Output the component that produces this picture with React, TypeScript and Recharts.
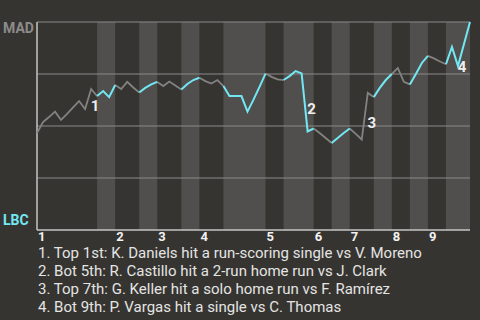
import React from 'react';
import { LineChart, Line, XAxis, YAxis, ReferenceArea, ReferenceLine, ReferenceDot } from 'recharts';

// MAD win probability (%) after each plate appearance, play 0 .. 72
const madWinPct = [
  46.6, 51.9, 54.3, 56.9, 52.9, 55.8, 58.9, 62.0, 58.2, 67.8,
  64.4, 66.8, 63.9, 69.7, 67.8, 71.2, 68.5, 66.1, 68.3, 70.0,
  71.2, 69.2, 71.4, 69.5, 67.5, 70.2, 72.1, 73.2, 71.6, 70.4,
  72.1, 69.2, 64.4, 64.4, 64.4, 56.9, 62.7, 68.8, 75.2, 73.6,
  72.4, 72.1, 74.0, 76.4, 75.3, 47.4, 48.8, 46.6, 44.2, 41.8,
  44.2, 46.6, 48.8, 46.2, 43.5, 65.9, 63.9, 68.3, 72.1, 75.0,
  77.9, 71.2, 70.0, 75.0, 80.3, 83.7, 82.5, 81.0, 79.7, 88.0,
  78.8, 89.4, 100,
];

// Play index at which each half-inning begins (last entry = final play)
const halfInningStarts = [0, 10, 13, 17, 20, 24, 27, 31, 38, 41, 46, 49, 52, 56, 59, 62, 65, 68, 72];

const inningLabels = ['1', '2', '3', '4', '5', '6', '7', '8', '9'];

// Key plays: index of the play that produced the swing
const keyPlayIndex = [9, 45, 55, 71];
const keyPlayNotes = [
  '1. Top 1st: K. Daniels hit a run-scoring single vs V. Moreno',
  '2. Bot 5th: R. Castillo hit a 2-run home run vs J. Clark',
  '3. Top 7th: G. Keller hit a solo home run vs F. Ramírez',
  '4. Bot 9th: P. Vargas hit a single vs C. Thomas',
];

const BG = '#363430';
const BAND = '#504f4d';
const GRID = '#8a8a8a';
const AXIS = '#c4c4c4';
const TOP_COLOR = '#828282';
const BOT_COLOR = '#72e8f4';
const FONT = 'Roboto, "Noto Sans", sans-serif';

const inHalf = (i: number, wantTop: boolean) => {
  for (let h = 0; h < halfInningStarts.length - 1; h++) {
    const isTop = h % 2 === 0;
    if (isTop !== wantTop) continue;
    if (i >= halfInningStarts[h] && i <= halfInningStarts[h + 1]) return true;
  }
  return false;
};

const rows = madWinPct.map((v, i) => ({
  play: i,
  top: inHalf(i, true) ? v : null,
  bot: inHalf(i, false) ? v : null,
}));

const inningStarts = halfInningStarts.filter((_, k) => k % 2 === 0).slice(0, inningLabels.length);

const InningTick = (props: any) => {
  const { x, y, payload } = props;
  const k = inningStarts.indexOf(payload.value);
  return (
    <text x={x + 1} y={y + 11} fill="#f2f2f2" fontSize={13} fontWeight="bold" fontFamily={FONT} textAnchor="start">
      {inningLabels[k]}
    </text>
  );
};

// label nudges (px) relative to the middle of each swing
const labelNudge = [
  { dx: 7, dy: 7 },
  { dx: 7, dy: 7 },
  { dx: 7, dy: 7 },
  { dx: 1, dy: 12 },
];

export default function App() {
  return (
    <div style={{ position: 'fixed', left: 0, top: 0, width: 480, height: 320, background: BG, overflow: 'hidden' }}>
      <LineChart width={480} height={320} data={rows} margin={{ top: 22, right: 10, bottom: 70, left: 37 }}>
        <XAxis
          type="number"
          dataKey="play"
          domain={[0, 72]}
          ticks={inningStarts}
          interval={0}
          tick={<InningTick />}
          tickLine={false}
          tickSize={0}
          tickMargin={0}
          height={20}
          axisLine={{ stroke: AXIS, strokeWidth: 1.5 }}
        />
        <YAxis hide domain={[0, 100]} type="number" />
        {halfInningStarts.slice(0, -1).map((s, h) =>
          h % 2 === 1 ? (
            <ReferenceArea
              key={'band' + h}
              x1={s}
              x2={halfInningStarts[h + 1]}
              y1={0}
              y2={100}
              fill={BAND}
              fillOpacity={1}
              stroke="none"
            />
          ) : null
        )}
        {[25, 50, 75, 100].map((g) => (
          <ReferenceLine key={'g' + g} y={g} stroke={GRID} strokeWidth={1} />
        ))}
        <ReferenceLine x={0} stroke={AXIS} strokeWidth={1.5} />
        <Line dataKey="top" stroke={TOP_COLOR} strokeWidth={1.8} dot={false} activeDot={false} isAnimationActive={false} type="linear" />
        <Line dataKey="bot" stroke={BOT_COLOR} strokeWidth={2} dot={false} activeDot={false} isAnimationActive={false} type="linear" />
        {keyPlayIndex.map((idx, k) => (
          <ReferenceDot
            key={'ev' + k}
            x={idx - 0.5}
            y={(madWinPct[idx - 1] + madWinPct[idx]) / 2}
            r={0}
            shape={(p: any) => (
              <text
                x={p.cx + labelNudge[k].dx}
                y={p.cy + labelNudge[k].dy + 5}
                fill="#eeeeee"
                fontSize={15}
                fontWeight="bold"
                fontFamily={FONT}
                textAnchor="middle"
              >
                {k + 1}
              </text>
            )}
          />
        ))}
      </LineChart>
      <svg width={480} height={320} style={{ position: 'absolute', left: 0, top: 0, pointerEvents: 'none' }}>
        <text x={3} y={33} fill="#8c8c8c" fontSize={14} fontWeight="bold" fontFamily={FONT}>MAD</text>
        <text x={3} y={225} fill={BOT_COLOR} fontSize={14} fontWeight="bold" fontFamily={FONT}>LBC</text>
        {keyPlayNotes.map((t, k) => (
          <text key={'n' + k} x={38} y={258 + k * 18} fill="#e4e4e4" fontSize={15} fontFamily={FONT}>
            {t}
          </text>
        ))}
      </svg>
    </div>
  );
}
